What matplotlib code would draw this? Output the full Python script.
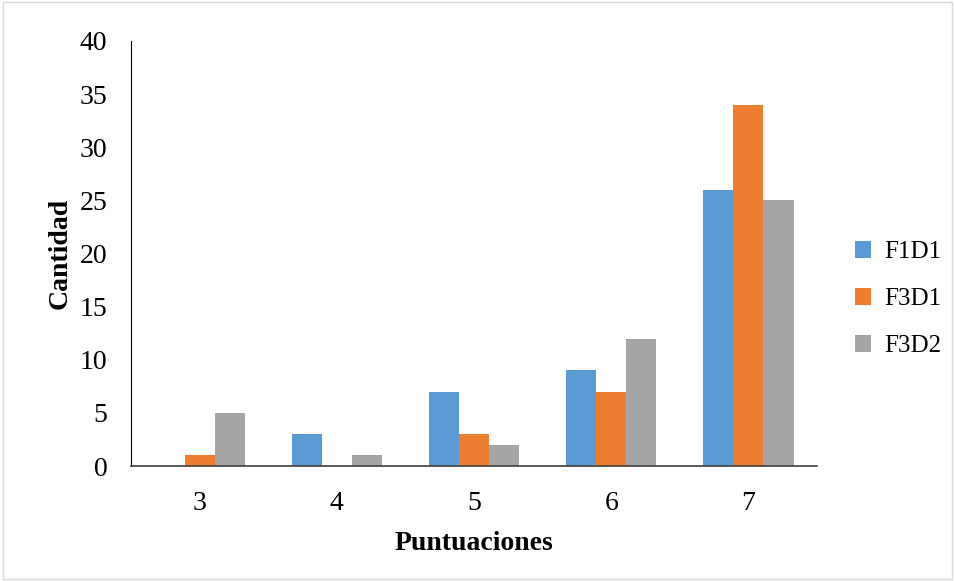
import matplotlib.pyplot as plt
import numpy as np

# Data
categories = ['3', '4', '5', '6', '7']
f1d1 = [0, 3, 7, 9, 26]
f3d1 = [1, 0, 3, 7, 34]
f3d2 = [5, 1, 2, 12, 25]
series_names = ['F1D1', 'F3D1', 'F3D2']
colors = ['#5b9bd5', '#ed7d31', '#a5a5a5']

plt.rcParams['font.family'] = ['Liberation Serif', 'DejaVu Serif']

fig = plt.figure(figsize=(9.55, 5.81), dpi=100)
ax = fig.add_axes([131 / 955, 1 - 466 / 581, (817 - 131) / 955, (466 - 41) / 581])

x = np.arange(len(categories))
w = 0.22
for i, (vals, name, c) in enumerate(zip([f1d1, f3d1, f3d2], series_names, colors)):
    ax.bar(x + (i - 1) * w, vals, width=w, color=c, label=name)

ax.set_xlim(-0.5, len(categories) - 0.5)
ax.set_ylim(0, 40)
ax.set_yticks(range(0, 41, 5))
ax.set_xticks(x)
ax.set_xticklabels(categories)
ax.tick_params(length=0, labelsize=20, colors='black')
ax.tick_params(axis='x', pad=18)
ax.tick_params(axis='y', pad=17)

for s in ['top', 'right']:
    ax.spines[s].set_visible(False)
ax.spines['left'].set_color('black')
ax.spines['bottom'].set_color('#404040')
ax.spines['bottom'].set_linewidth(1.2)

ax.set_xlabel('Puntuaciones', fontsize=20, fontweight='bold', labelpad=11)
ax.set_ylabel('Cantidad', fontsize=20, fontweight='bold', labelpad=5)

ax.legend(loc='center left', bbox_to_anchor=(855 / 955, 1 - 299 / 581),
          bbox_transform=fig.transFigure, frameon=False, borderpad=0, borderaxespad=0,
          fontsize=18, handlelength=0.65, handleheight=0.65, labelspacing=1.0,
          handletextpad=0.5)

# light border around the figure
fig.patches.append(plt.Rectangle((0.003, 0.003), 0.994, 0.994, transform=fig.transFigure,
                                 fill=False, edgecolor='#d9d9d9', linewidth=1))

fig.savefig('out.png', dpi=100)
